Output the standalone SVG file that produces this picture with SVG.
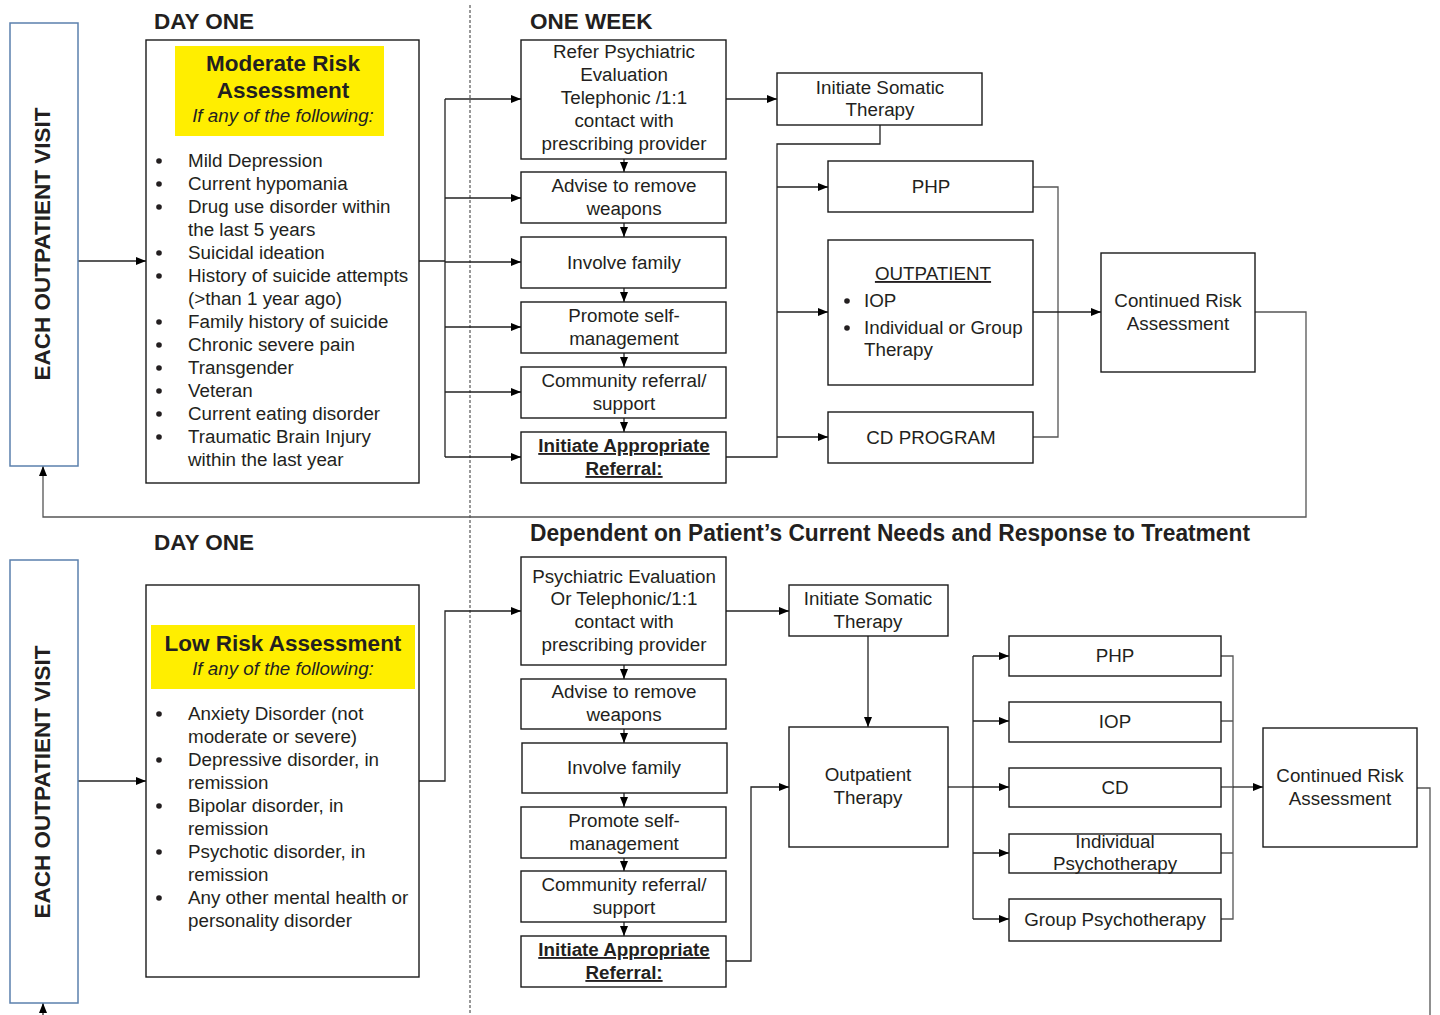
<svg xmlns="http://www.w3.org/2000/svg" width="1440" height="1015" viewBox="0 0 1440 1015">
<defs>
<style>
text{font-family:"Liberation Sans",Arial,sans-serif;fill:#231f20;font-size:18.8px}
.c{text-anchor:middle}
.b{font-weight:bold}
.h{font-weight:bold;font-size:22.5px}
.sub{font-weight:bold;font-size:24px}
.i{font-style:italic}
.u{text-decoration:underline}
.box{fill:#fff;stroke:#1a1a1a;stroke-width:1.4}
.side{fill:#fff;stroke:#5b80ad;stroke-width:1.5}
.hl{fill:#ffee00}
.dot{fill:#231f20}
.ln{fill:none;stroke:#222;stroke-width:1.3}
.g{stroke:#555}
.ar{marker-end:url(#ah)}
</style>
<marker id="ah" markerWidth="10" markerHeight="8" refX="10" refY="4" orient="auto" markerUnits="userSpaceOnUse"><path d="M0,0 L10,4 L0,8z" fill="#000"/></marker>
</defs>
<rect width="1440" height="1015" fill="#fff"/>

<!-- section headers -->
<text x="154" y="29" class="h">DAY ONE</text>
<text x="530" y="29" class="h">ONE WEEK</text>
<text x="154" y="550" class="h">DAY ONE</text>
<text x="530" y="541" class="sub" textLength="720" lengthAdjust="spacingAndGlyphs">Dependent on Patient’s Current Needs and Response to Treatment</text>

<path d="M470,5 V1015" fill="none" stroke="#333" stroke-width="1" stroke-dasharray="3,2"/>

<g id="connectors">
<!-- top -->
<path class="ln ar" d="M78,261 H146"/>
<path class="ln" d="M419,261 H445 M445,99 V457"/>
<path class="ln ar" d="M445,99 H521"/>
<path class="ln ar" d="M445,198 H521"/>
<path class="ln ar" d="M445,262 H521"/>
<path class="ln ar" d="M445,327 H521"/>
<path class="ln ar" d="M445,392 H521"/>
<path class="ln ar" d="M445,457 H521"/>
<path class="ln ar" d="M624,159 V172"/>
<path class="ln ar" d="M624,223 V237"/>
<path class="ln ar" d="M624,288 V302"/>
<path class="ln ar" d="M624,353 V367"/>
<path class="ln ar" d="M624,418 V432"/>
<path class="ln ar" d="M726,99 H777"/>
<path class="ln" d="M726,457 H777 V144 H880 V125"/>
<path class="ln ar" d="M777,187 H828"/>
<path class="ln ar" d="M777,312 H828"/>
<path class="ln ar" d="M777,437 H828"/>
<path class="ln g" d="M1033,187 H1058 V437 H1033"/>
<path class="ln ar" d="M1033,312 H1101"/>
<path class="ln g ar" d="M1255,312 H1306 V517 H43 V466"/>
<!-- bottom -->
<path class="ln ar" d="M78,781 H146"/>
<path class="ln ar" d="M419,781 H445 V611 H521"/>
<path class="ln ar" d="M624,665 V679"/>
<path class="ln ar" d="M624,729 V743"/>
<path class="ln ar" d="M624,793 V807"/>
<path class="ln ar" d="M624,858 V871"/>
<path class="ln ar" d="M624,922 V936"/>
<path class="ln ar" d="M726,611 H789"/>
<path class="ln ar" d="M868,636 V727"/>
<path class="ln ar" d="M726,961 H751 V787 H789"/>
<path class="ln" stroke-width="2" d="M948,787 H973"/>
<path class="ln" d="M973,656 V919"/>
<path class="ln ar" d="M973,656 H1009"/>
<path class="ln ar" d="M973,721 H1009"/>
<path class="ln ar" d="M973,787 H1009"/>
<path class="ln ar" d="M973,853 H1009"/>
<path class="ln ar" d="M973,919 H1009"/>
<path class="ln g" d="M1221,656 H1233 V919 H1221 M1221,721 H1233 M1221,787 H1233 M1221,853 H1233"/>
<path class="ln ar" stroke-width="2" d="M1233,787 H1263"/>
<path class="ln g" d="M1417,788 H1430 V1015"/>
<path class="ln ar" d="M43,1015 V1003"/>
</g>

<!-- TOP SECTION -->
<g id="visit-top">
<rect class="side" x="10" y="23" width="68" height="443"/>
<text class="h c" transform="translate(50,244) rotate(-90)">EACH OUTPATIENT VISIT</text>
</g>

<g id="moderate-risk">
<rect class="box" x="146" y="40" width="273" height="443"/>
<rect class="hl" x="175" y="46" width="209" height="90"/>
<text x="283" y="71" class="h c">Moderate Risk</text>
<text x="283" y="98" class="h c">Assessment</text>
<text x="283" y="122" class="i c">If any of the following:</text>
<g>
<circle class="dot" cx="159" cy="161" r="2.8"/><text x="188" y="167">Mild Depression</text>
<circle class="dot" cx="159" cy="184" r="2.8"/><text x="188" y="190">Current hypomania</text>
<circle class="dot" cx="159" cy="207" r="2.8"/><text x="188" y="213">Drug use disorder within</text>
<text x="188" y="236">the last 5 years</text>
<circle class="dot" cx="159" cy="253" r="2.8"/><text x="188" y="259">Suicidal ideation</text>
<circle class="dot" cx="159" cy="276" r="2.8"/><text x="188" y="282">History of suicide attempts</text>
<text x="188" y="305">(&gt;than 1 year ago)</text>
<circle class="dot" cx="159" cy="322" r="2.8"/><text x="188" y="328">Family history of suicide</text>
<circle class="dot" cx="159" cy="345" r="2.8"/><text x="188" y="351">Chronic severe pain</text>
<circle class="dot" cx="159" cy="368" r="2.8"/><text x="188" y="374">Transgender</text>
<circle class="dot" cx="159" cy="391" r="2.8"/><text x="188" y="397">Veteran</text>
<circle class="dot" cx="159" cy="414" r="2.8"/><text x="188" y="420">Current eating disorder</text>
<circle class="dot" cx="159" cy="437" r="2.8"/><text x="188" y="443">Traumatic Brain Injury</text>
<text x="188" y="466">within the last year</text>
</g>
</g>

<g id="refer-psych">
<rect class="box" x="521" y="40" width="205" height="119"/>
<text class="c" x="624" y="58">Refer Psychiatric</text>
<text class="c" x="624" y="81">Evaluation</text>
<text class="c" x="624" y="104">Telephonic /1:1</text>
<text class="c" x="624" y="127">contact with</text>
<text class="c" x="624" y="150">prescribing provider</text>
</g>
<g id="weapons-top">
<rect class="box" x="521" y="172" width="205" height="51"/>
<text class="c" x="624" y="192">Advise to remove</text>
<text class="c" x="624" y="215">weapons</text>
</g>
<g id="family-top">
<rect class="box" x="521" y="237" width="205" height="51"/>
<text class="c" x="624" y="269">Involve family</text>
</g>
<g id="selfmgmt-top">
<rect class="box" x="521" y="302" width="205" height="51"/>
<text class="c" x="624" y="322">Promote self-</text>
<text class="c" x="624" y="345">management</text>
</g>
<g id="community-top">
<rect class="box" x="521" y="367" width="205" height="51"/>
<text class="c" x="624" y="387">Community referral/</text>
<text class="c" x="624" y="410">support</text>
</g>
<g id="referral-top">
<rect class="box" x="521" y="432" width="205" height="51"/>
<text class="c b u" x="624" y="452">Initiate Appropriate</text>
<text class="c b u" x="624" y="475">Referral:</text>
</g>
<g id="somatic-top">
<rect class="box" x="777" y="73" width="205" height="52"/>
<text class="c" x="880" y="94">Initiate Somatic</text>
<text class="c" x="880" y="116">Therapy</text>
</g>
<g id="php-top">
<rect class="box" x="828" y="161" width="205" height="51"/>
<text class="c" x="931" y="193">PHP</text>
</g>
<g id="outpatient-top">
<rect class="box" x="828" y="240" width="205" height="145"/>
<text class="c u" x="933" y="280">OUTPATIENT</text>
<circle class="dot" cx="847" cy="301" r="2.8"/><text x="864" y="307">IOP</text>
<circle class="dot" cx="847" cy="328" r="2.8"/><text x="864" y="334">Individual or Group</text>
<text x="864" y="356">Therapy</text>
</g>
<g id="cd-program">
<rect class="box" x="828" y="412" width="205" height="51"/>
<text class="c" x="931" y="444">CD PROGRAM</text>
</g>
<g id="continued-top">
<rect class="box" x="1101" y="253" width="154" height="119"/>
<text class="c" x="1178" y="307">Continued Risk</text>
<text class="c" x="1178" y="330">Assessment</text>
</g>

<!-- BOTTOM SECTION -->
<g id="visit-bottom">
<rect class="side" x="10" y="560" width="68" height="443"/>
<text class="h c" transform="translate(50,782) rotate(-90)">EACH OUTPATIENT VISIT</text>
</g>

<g id="low-risk">
<rect class="box" x="146" y="585" width="273" height="392"/>
<rect class="hl" x="151" y="625" width="264" height="64"/>
<text x="283" y="651" class="h c">Low Risk Assessment</text>
<text x="283" y="675" class="i c">If any of the following:</text>
<circle class="dot" cx="159" cy="714" r="2.8"/><text x="188" y="720">Anxiety Disorder (not</text>
<text x="188" y="743">moderate or severe)</text>
<circle class="dot" cx="159" cy="760" r="2.8"/><text x="188" y="766">Depressive disorder, in</text>
<text x="188" y="789">remission</text>
<circle class="dot" cx="159" cy="806" r="2.8"/><text x="188" y="812">Bipolar disorder, in</text>
<text x="188" y="835">remission</text>
<circle class="dot" cx="159" cy="852" r="2.8"/><text x="188" y="858">Psychotic disorder, in</text>
<text x="188" y="881">remission</text>
<circle class="dot" cx="159" cy="898" r="2.8"/><text x="188" y="904">Any other mental health or</text>
<text x="188" y="927">personality disorder</text>
</g>

<g id="psych-eval">
<rect class="box" x="521" y="557" width="205" height="108"/>
<text class="c" x="624" y="583">Psychiatric Evaluation</text>
<text class="c" x="624" y="605">Or Telephonic/1:1</text>
<text class="c" x="624" y="628">contact with</text>
<text class="c" x="624" y="651">prescribing provider</text>
</g>
<g id="weapons-bottom">
<rect class="box" x="521" y="679" width="205" height="50"/>
<text class="c" x="624" y="698">Advise to remove</text>
<text class="c" x="624" y="721">weapons</text>
</g>
<g id="family-bottom">
<rect class="box" x="522" y="743" width="205" height="50"/>
<text class="c" x="624" y="774">Involve family</text>
</g>
<g id="selfmgmt-bottom">
<rect class="box" x="521" y="807" width="205" height="51"/>
<text class="c" x="624" y="827">Promote self-</text>
<text class="c" x="624" y="850">management</text>
</g>
<g id="community-bottom">
<rect class="box" x="521" y="871" width="205" height="51"/>
<text class="c" x="624" y="891">Community referral/</text>
<text class="c" x="624" y="914">support</text>
</g>
<g id="referral-bottom">
<rect class="box" x="521" y="936" width="205" height="51"/>
<text class="c b u" x="624" y="956">Initiate Appropriate</text>
<text class="c b u" x="624" y="979">Referral:</text>
</g>
<g id="somatic-bottom">
<rect class="box" x="789" y="585" width="159" height="51"/>
<text class="c" x="868" y="605">Initiate Somatic</text>
<text class="c" x="868" y="628">Therapy</text>
</g>
<g id="outpatient-therapy">
<rect class="box" x="789" y="727" width="159" height="120"/>
<text class="c" x="868" y="781">Outpatient</text>
<text class="c" x="868" y="804">Therapy</text>
</g>
<g id="php-bottom">
<rect class="box" x="1009" y="636" width="212" height="40"/>
<text class="c" x="1115" y="662">PHP</text>
</g>
<g id="iop-bottom">
<rect class="box" x="1009" y="702" width="212" height="40"/>
<text class="c" x="1115" y="728">IOP</text>
</g>
<g id="cd-bottom">
<rect class="box" x="1009" y="768" width="212" height="39"/>
<text class="c" x="1115" y="794">CD</text>
</g>
<g id="individual-psych">
<rect class="box" x="1009" y="834" width="212" height="39"/>
<text class="c" x="1115" y="848">Individual</text>
<text class="c" x="1115" y="870">Psychotherapy</text>
</g>
<g id="group-psych">
<rect class="box" x="1009" y="899" width="212" height="42"/>
<text class="c" x="1115" y="926">Group Psychotherapy</text>
</g>
<g id="continued-bottom">
<rect class="box" x="1263" y="728" width="154" height="119"/>
<text class="c" x="1340" y="782">Continued Risk</text>
<text class="c" x="1340" y="805">Assessment</text>
</g>
</svg>
